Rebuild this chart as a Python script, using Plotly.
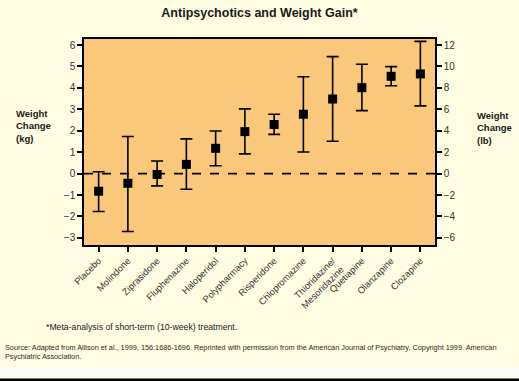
import plotly.graph_objects as go

drugs = ["Placebo", "Molindone", "Ziprasidone", "Fluphenazine", "Haloperidol",
         "Polypharmacy", "Risperidone", "Chlopromazine", "Thioridazine/<br>Mesoridazine",
         "Quetiapine", "Olanzapine", "Clozapine"]
mean_kg = [-0.82, -0.45, -0.04, 0.43, 1.18, 1.96, 2.29, 2.77, 3.48, 4.01, 4.54, 4.65]
upper_kg = [0.09, 1.73, 0.59, 1.62, 1.99, 3.02, 2.77, 4.52, 5.46, 5.10, 4.99, 6.17]
lower_kg = [-1.77, -2.70, -0.57, -0.73, 0.37, 0.92, 1.83, 1.01, 1.51, 2.94, 4.10, 3.16]
kg_ticks = [-3, -2, -1, 0, 1, 2, 3, 4, 5, 6]
lb_ticks = [-6, -4, -2, 0, 2, 4, 6, 8, 10, 12]
kg_range = [-3.33, 6.28]

err_plus = [u - m for u, m in zip(upper_kg, mean_kg)]
err_minus = [m - l for m, l in zip(mean_kg, lower_kg)]

FONT = "Liberation Sans, Arial, sans-serif"
PAPER = "#FFFDE1"
PLOT = "#F9C87B"

fig = go.Figure()
fig.add_trace(go.Scatter(
    x=list(range(len(drugs))), y=mean_kg, mode="markers",
    marker=dict(symbol="square", size=9, color="black"),
    error_y=dict(type="data", symmetric=False, array=err_plus, arrayminus=err_minus,
                 color="black", thickness=1.6, width=6),
    showlegend=False, hoverinfo="skip"))
fig.add_trace(go.Scatter(x=[0], y=[0], yaxis="y2", mode="markers",
                         marker=dict(opacity=0), showlegend=False, hoverinfo="skip"))

fig.add_shape(type="line", xref="paper", x0=0, x1=1, yref="y", y0=0, y1=0,
              line=dict(color="black", width=1.6, dash="dash"))

fig.update_layout(
    width=519, height=381,
    margin=dict(l=84, r=84, t=39, b=136, autoexpand=False),
    paper_bgcolor=PAPER, plot_bgcolor=PLOT,
    font=dict(family=FONT, size=10, color="#333333"),
    title=dict(text="<b>Antipsychotics and Weight Gain*</b>", x=0.5, xanchor="center",
               xref="paper", yref="container", y=1 - 13 / 381, yanchor="middle",
               font=dict(family=FONT, size=12.5, color="#1a1a1a")),
    xaxis=dict(range=[-0.5, len(drugs) - 0.5], tickmode="array", automargin=False,
               tickvals=list(range(len(drugs))), ticktext=drugs, tickangle=-45,
               ticks="outside", ticklen=5, tickwidth=1.5, tickcolor="black",
               showline=True, linecolor="black", linewidth=1.5, mirror=True,
               showgrid=False, zeroline=False, tickfont=dict(size=9.3, color="#333333")),
    yaxis=dict(range=kg_range, tickvals=kg_ticks, ticks="outside", ticklen=5, automargin=False,
               tickwidth=1.5, tickcolor="black", showline=True, linecolor="black",
               linewidth=1.5, mirror=True, showgrid=False, zeroline=False,
               tickfont=dict(size=10, color="#333333")),
    yaxis2=dict(range=[2 * kg_range[0], 2 * kg_range[1]], tickvals=lb_ticks, automargin=False,
                overlaying="y", side="right", ticks="outside", ticklen=5,
                tickwidth=1.5, tickcolor="black", showline=True, linecolor="black",
                linewidth=1.5, showgrid=False, zeroline=False,
                tickfont=dict(size=10, color="#333333")),
)

fig.add_annotation(text="<b>Weight<br>Change<br>(kg)</b>", xref="paper", yref="paper",
                   x=-70 / 351, y=1 - (126 - 39) / 206, xanchor="left", yanchor="middle",
                   align="left", showarrow=False,
                   font=dict(family=FONT, size=9.5, color="#1a1a1a"))
fig.add_annotation(text="<b>Weight<br>Change<br>(lb)</b>", xref="paper", yref="paper",
                   x=(475 - 84) / 351, y=1 - (128 - 39) / 206, xanchor="left", yanchor="middle",
                   align="left", showarrow=False,
                   font=dict(family=FONT, size=9.5, color="#1a1a1a"))
fig.add_annotation(text="*Meta-analysis of short-term (10-week) treatment.", xref="paper", yref="paper",
                   x=(44 - 84) / 351, y=-(327 - 245) / 206, xanchor="left", yanchor="middle",
                   showarrow=False, font=dict(family=FONT, size=8.7, color="#1a1a1a"))
fig.add_annotation(text="Source: Adapted from Allison et al., 1999, 156:1686-1696. Reprinted with permission from the American Journal of Psychiatry, Copyright 1999. American<br>Psychiatric Association.",
                   xref="paper", yref="paper",
                   x=(3 - 84) / 351, y=-(352 - 245) / 206, xanchor="left", yanchor="middle",
                   align="left", showarrow=False, font=dict(family=FONT, size=7.3, color="#2a2a2a"))

fig.add_shape(type="rect", xref="paper", yref="paper", x0=-84 / 351, x1=1 + 84 / 351,
              y0=-(377 - 245) / 206, y1=-(367 - 245) / 206, fillcolor="#FDFDF7",
              line=dict(width=0), layer="below")
fig.add_shape(type="rect", xref="paper", yref="paper", x0=-84 / 351, x1=1 + 84 / 351,
              y0=-(381 - 245) / 206, y1=-(378.5 - 245) / 206, fillcolor="black",
              line=dict(width=0))

fig.write_html("out.html", config={"displayModeBar": False},
               post_script="document.body.style.margin='0';document.body.style.overflow='hidden';")
